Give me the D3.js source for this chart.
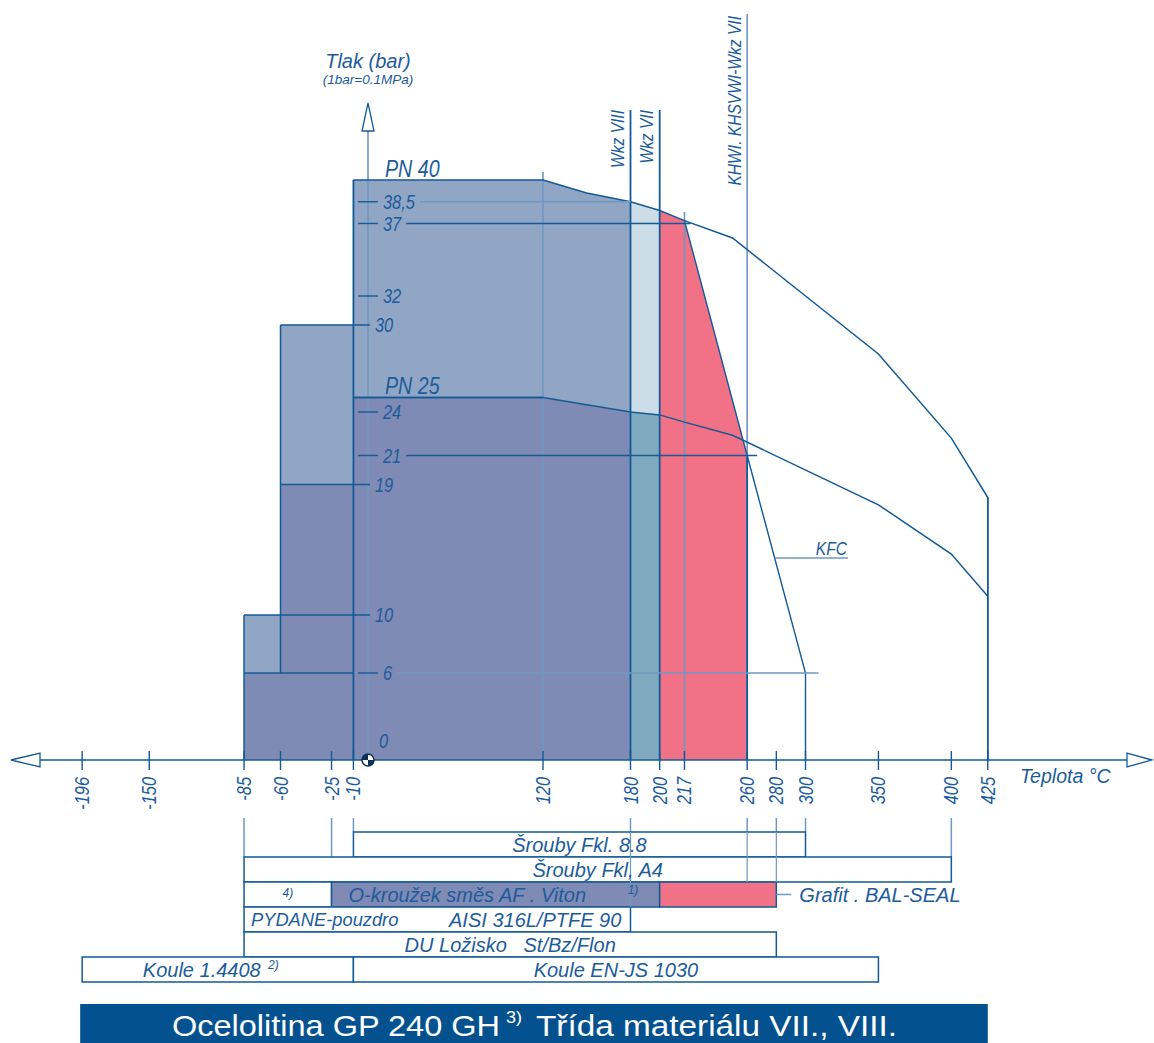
<!DOCTYPE html>
<html><head><meta charset="utf-8">
<script src="https://cdn.jsdelivr.net/npm/d3@7"></script>
<style>
body{margin:0;background:#fff;}
svg{display:block;}
.n{font-family:"Liberation Sans",Arial,sans-serif;font-style:italic;}
.w{font-family:"Liberation Sans",Arial,sans-serif;font-style:italic;}
</style></head><body>
<svg id="c" width="1154" height="1043"></svg>
<script>
// ---------- data ----------
const xTickValues = [-196,-150,-85,-60,-25,-10,120,180,200,217,260,280,300,350,400,425];
const yTickValues = [0,6,10,19,21,24,30,32,37,38.5];
const yTickLabels = ["0","6","10","19","21","24","30","32","37","38,5"];
const pn40Temp = [-10,120,150,180,200,217,250,350,400,425];
const pn40Bar  = [40,40,39.1,38.5,37.9,37.2,36,28,22.2,18.1];
const pn25Temp = [-10,120,150,180,200,217,250,350,400,425];
const pn25Bar  = [25,25,24.5,24.0,23.8,23.3,22.4,17.6,14.2,11.3];
const kfcTemp = [217,260,300];
const kfcBar  = [37.2,21,6];
const stepTemp = [-85,-60,-10];
const stepHigh = [10,30];
const stepLow  = [6,19];
const classTemp = [180,200,260];
const classLabels = ["Wkz VIII","Wkz VII","KHWI. KHSVWI-Wkz VII"];
const barRow   = [0,1,2,2,2,3,4,5,5];
const barFrom  = [-10,-85,-85,-25,200,-85,-85,-196,-10];
const barTo    = [300,400,-25,200,280,180,280,-10,350];
const barLabels = ["Šrouby Fkl. 8.8","Šrouby Fkl, A4","4)","O-kroužek směs AF . Viton","","PYDANE-pouzdro     AISI 316L/PTFE 90","DU Ložisko   St/Bz/Flon","Koule 1.4408","Koule EN-JS 1030"];
const extTemp = [-85,-25,-10,180,260,280,300,400];
const extRow  = [1,2,0,3,2,2,0,1];

// ---------- style ----------
const C = {light:"#91a6c5", dark:"#7f8ab5", pale:"#cddde7", teal:"#7faabf", pink:"#f17186",
  line:"#135a97", mid:"#6f98c2", text:"#1c5c9c", banner:"#03528f"};
const NARROW = 0.82;
// condensed italic text drawn via horizontal scale
function ntext(g, X, Y, txt, size, anchor, rot){
  const t = g.append("text").attr("class","n").attr("font-size",size).attr("fill",C.text)
    .attr("transform",`translate(${X},${Y})${rot?" rotate(-90)":""} scale(${NARROW},1)`)
    .attr("text-anchor",anchor||"start").attr("dy","0.35em").text(txt);
  t.node().__len = t.node().getComputedTextLength()*NARROW;
  return t;
}

const svg = d3.select("#c");
const x = d3.scaleLinear().domain([0,120]).range([368,543]);
const y = d3.scaleLinear().domain([0,40]).range([760,180]);
const pts = (T,P) => T.map((t,i)=>[t,P[i]]);
const pn40 = pts(pn40Temp,pn40Bar), pn25 = pts(pn25Temp,pn25Bar), kfc = pts(kfcTemp,kfcBar);
const clip = (a,t0,t1) => a.filter(d=>d[0]>=t0 && d[0]<=t1);
const area = d3.area().x(d=>x(d[0])).y0(y(0)).y1(d=>y(d[1]));
const line = d3.line().x(d=>x(d[0])).y(d=>y(d[1]));
const seg = (g,x1,y1,x2,y2,col,w) => g.append("line").attr("x1",x1).attr("y1",y1).attr("x2",x2).attr("y2",y2)
   .attr("stroke",col).attr("stroke-width",w);

// ---------- fills ----------
const gf = svg.append("g");
for (let i=0;i<2;i++){
  gf.append("rect").attr("x",x(stepTemp[i])).attr("width",x(stepTemp[2])-x(stepTemp[i]))
    .attr("y",y(stepHigh[i])).attr("height",y(0)-y(stepHigh[i])).attr("fill",C.light);
}
for (let i=0;i<2;i++){
  gf.append("rect").attr("x",x(stepTemp[i])).attr("width",x(stepTemp[2])-x(stepTemp[i]))
    .attr("y",y(stepLow[i])).attr("height",y(0)-y(stepLow[i])).attr("fill",C.dark);
}
gf.append("path").attr("d",area(clip(pn40,-10,180))).attr("fill",C.light);
gf.append("path").attr("d",area(clip(pn25,-10,180))).attr("fill",C.dark);
gf.append("path").attr("d",area(clip(pn40,180,200))).attr("fill",C.pale);
gf.append("path").attr("d",area(clip(pn25,180,200))).attr("fill",C.teal);
gf.append("path").attr("d",area(clip(pn40,200,217).concat(clip(kfc,218,260)))).attr("fill",C.pink);

// ---------- vertical reference lines ----------
const gl = svg.append("g");
seg(gl,x(120),172,x(120),y(0),C.mid,1.6);
seg(gl,x(217),212,x(217),y(0),C.mid,1.6);
const classTop = [110,110,16];
classTemp.forEach((t,i)=>{
  seg(gl,x(t),i<2?classTop[i]:14,x(t),y(0), i<2?C.line:C.mid, i<2?1.8:1.6);
  const tx = ntext(gl, x(t)-13, classTop[i], classLabels[i], 19, "end", true);
  // re-anchor at the bottom end so the text runs upward from there
  const len = tx.node().__len;
  tx.attr("text-anchor","start").attr("transform",`translate(${x(t)-13},${classTop[i]+len}) rotate(-90) scale(${NARROW},1)`);
});
seg(gl,x(260),y(21),x(260),y(0),C.line,1.8);
// y axis
seg(gl,x(0),131,x(0),y(0),C.mid,1.6);
gl.append("path").attr("d",`M${x(0)},103 L${x(0)-6},131 L${x(0)+6},131 Z`).attr("fill","#fff").attr("stroke",C.line).attr("stroke-width",1.3);

// ---------- outlines ----------
const go = svg.append("g").attr("fill","none");
go.append("path").attr("d",line(pn40.concat([[425,0]]))).attr("stroke",C.line).attr("stroke-width",1.5);
go.append("path").attr("d",line(pn25)).attr("stroke",C.line).attr("stroke-width",1.5);
go.append("path").attr("d",line(kfc.concat([[300,0]]))).attr("stroke",C.line).attr("stroke-width",1.4);
seg(go,x(-10),y(0),x(-10),y(40),C.line,1.8);
seg(go,x(-85),y(0),x(-85),y(10),C.line,1.5);
seg(go,x(-60),y(6),x(-60),y(30),C.line,1.5);
seg(go,x(-85),y(6),x(-10),y(6),C.line,1.5);
seg(go,x(-85),y(10),x(0)+2,y(10),C.line,1.5);
seg(go,x(-60),y(19),x(0)+2,y(19),C.line,1.5);
seg(go,x(-60),y(30),x(0)+2,y(30),C.line,1.5);
seg(go,x(-10),y(25),x(120),y(25),C.line,1.5);

// ---------- y tick labels ----------
const gy = svg.append("g");
const lineEnd = {38.5:x(180), 37:x(217)+6, 21:x(260)+10, 6:x(300)+13};
const lineCol = {38.5:C.mid, 37:C.line, 21:C.line, 6:C.mid};
yTickValues.forEach((v,i)=>{
  const inCol = (v===10||v===19||v===30);
  const lx = inCol ? x(0)+7 : (v===0 ? x(0)+11 : x(0)+15);
  if (!inCol && v!==0) seg(gy,x(0)-10,y(v),x(0)+10,y(v),C.line,1.4);
  const t = ntext(gy, lx, v===0?y(v)-19:y(v), yTickLabels[i], 20, "start", false);
  if (lineEnd[v]!==undefined){
    const L = t.node().__len;
    seg(gy,lx+L+5,y(v),lineEnd[v],y(v),lineCol[v],1.4);
  }
});
ntext(gy, x(0)+17, y(40)-11, "PN 40", 24, "start", false);
ntext(gy, x(0)+17, y(25)-12, "PN 25", 24, "start", false);
// KFC label
{
  const yy = 558;
  const frac = (yy - y(21))/(y(6)-y(21));
  const sx = x(260) + frac*(x(300)-x(260));
  seg(gy,sx,yy,848,yy,C.mid,1.5);
  ntext(gy, 847, yy-10, "KFC", 19, "end", false);
}
// titles
svg.append("text").attr("class","w").attr("font-size",20).attr("fill",C.text).attr("x",x(0)).attr("y",68).attr("text-anchor","middle").text("Tlak (bar)");
svg.append("text").attr("class","w").attr("font-size",13.5).attr("fill",C.text).attr("x",x(0)).attr("y",84).attr("text-anchor","middle").text("(1bar=0.1MPa)");

// ---------- x axis ----------
const gx = svg.append("g");
seg(gx,40,y(0),1127,y(0),C.line,1.5);
gx.append("path").attr("d",`M11,${y(0)} L40,${y(0)-7} L40,${y(0)+7} Z`).attr("fill","#fff").attr("stroke",C.line).attr("stroke-width",1.3);
gx.append("path").attr("d",`M1152,${y(0)} L1127,${y(0)-7} L1127,${y(0)+7} Z`).attr("fill","#fff").attr("stroke",C.line).attr("stroke-width",1.3);
xTickValues.forEach(t=>{
  seg(gx,x(t),y(0)-9,x(t),y(0)+10,C.line,1.4);
  ntext(gx, x(t), 777, String(t), 20, "end", true);
});
seg(gx,x(425),y(18.1),x(425),y(0),C.line,1.5);
gx.append("text").attr("class","w").attr("font-size",19.5).attr("fill",C.text).attr("x",1020).attr("y",783).text("Teplota °C");
// origin marker
const arc = d3.arc().innerRadius(0).outerRadius(6);
const om = gx.append("g").attr("transform",`translate(${x(0)},${y(0)})`);
[0,1,2,3].forEach(k=>{
  om.append("path").attr("d",arc({startAngle:k*Math.PI/2,endAngle:(k+1)*Math.PI/2}))
    .attr("fill",(k%2===0)?"#fff":"#0b2f55");
});
om.append("circle").attr("r",6).attr("fill","none").attr("stroke","#0b2f55").attr("stroke-width",1.5);

// ---------- material bars ----------
const rowTop = 832, rowH = 25;
const rowY = r => rowTop + r*rowH;
const gb = svg.append("g");
extTemp.forEach((t,i)=>{ seg(gb,x(t),818,x(t),rowY(extRow[i]),C.mid,1.5); });
const barFill = i => i===3 ? C.dark : (i===4 ? C.pink : "#fff");
barRow.forEach((r,i)=>{
  gb.append("rect").attr("x",x(barFrom[i])).attr("y",rowY(r)).attr("width",x(barTo[i])-x(barFrom[i])).attr("height",rowH)
    .attr("fill",barFill(i)).attr("stroke",C.line).attr("stroke-width",1.5);
});
// continuation lines through bars
seg(gb,x(180),rowY(0),x(180),rowY(3),C.mid,1.2);
seg(gb,x(260),rowY(0),x(260),rowY(2),C.mid,1.2);
seg(gb,x(280),rowY(0),x(280),rowY(2),C.mid,1.2);
const FS = 20;
barRow.forEach((r,i)=>{
  if (!barLabels[i]) return;
  const small = barLabels[i]==="4)";
  const cy = rowY(r)+rowH/2;
  const mk = (xx,txt,anchor,fs) => gb.append("text").attr("class","w").attr("font-size",small?12:(fs||FS)).attr("fill",C.text)
    .attr("x",xx).attr("y",cy+(small?-2:0)).attr("dy","0.36em").attr("text-anchor",anchor).style("white-space","pre").text(txt);
  if (i===5){
    const parts = barLabels[i].split(/\s{3,}/);
    mk(x(barFrom[i])+7,parts[0],"start",18.3);
    mk(x(barFrom[i])+205,parts[1],"start");
  } else if (i===3){
    mk(x(barFrom[i])+17,barLabels[i],"start");
  } else {
    mk((x(barFrom[i])+x(barTo[i]))/2 - (i===7?16:0),barLabels[i],"middle");
  }
});
// notes
gb.append("text").attr("class","w").attr("font-size",12).attr("fill",C.text).attr("x",x(200)-32).attr("y",rowY(2)+12).text("1)");
gb.append("text").attr("class","w").attr("font-size",12).attr("fill",C.text).attr("x",268).attr("y",rowY(5)+12).text("2)");
seg(gb,x(280),rowY(2)+rowH/2,x(280)+15,rowY(2)+rowH/2,C.mid,1.5);
gb.append("text").attr("class","w").attr("font-size",FS).attr("fill",C.text).attr("x",x(280)+23).attr("y",rowY(2)+rowH/2).attr("dy","0.36em").text("Grafit . BAL-SEAL");

// ---------- banner ----------
const bn = svg.append("g");
bn.append("rect").attr("x",x(-196)-2).attr("y",1004).attr("width",x(425)-x(-196)+2).attr("height",39).attr("fill",C.banner);
const bf = "'Liberation Sans',Arial,sans-serif";
bn.append("text").attr("x",172).attr("y",1036).attr("font-size",30).attr("fill","#fff").style("font-family",bf)
  .attr("textLength",328).attr("lengthAdjust","spacingAndGlyphs").text("Ocelolitina GP 240 GH");
bn.append("text").attr("x",506).attr("y",1023).attr("font-size",16).attr("fill","#fff").style("font-family",bf)
  .attr("textLength",16).attr("lengthAdjust","spacingAndGlyphs").text("3)");
bn.append("text").attr("x",536).attr("y",1036).attr("font-size",30).attr("fill","#fff").style("font-family",bf)
  .attr("textLength",361).attr("lengthAdjust","spacingAndGlyphs").text("Třída materiálu VII., VIII.");
</script>
</body></html>
